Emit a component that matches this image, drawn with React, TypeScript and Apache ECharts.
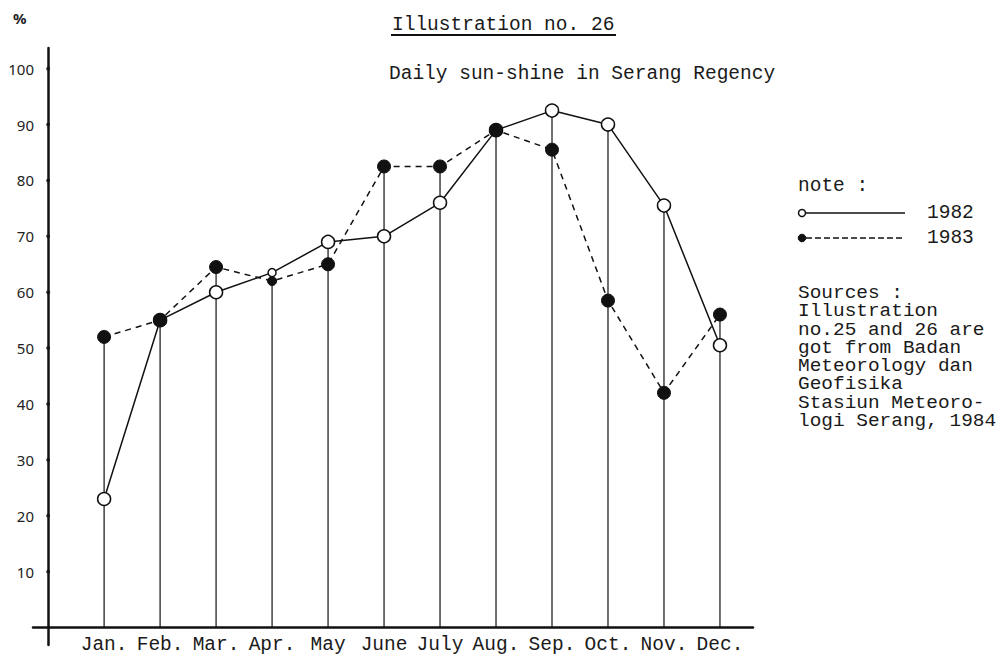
import React, { useEffect, useRef } from "react";
import * as echarts from "echarts";

const months = ["Jan.", "Feb.", "Mar.", "Apr.", "May", "June", "July", "Aug.", "Sep.", "Oct.", "Nov.", "Dec."];
const monthPos = [1, 2, 3, 4, 5, 6, 7, 8, 9, 10, 11, 12];
const sun1982 = [23, 55, 60, 63.5, 69, 70, 76, 89, 92.5, 90, 75.5, 50.5];
const sun1983 = [52, 55, 64.5, 62, 65, 82.5, 82.5, 89, 85.5, 58.5, 42, 56];
const yTicks = [10, 20, 30, 40, 50, 60, 70, 80, 90, 100];
const titleText = "Illustration no. 26";
const subtitleText = "Daily sun-shine in Serang Regency";
const sourceLines = [
  "Sources :",
  "Illustration",
  "no.25 and 26 are",
  "got from Badan",
  "Meteorology dan",
  "Geofisika",
  "Stasiun Meteoro-",
  "logi Serang, 1984",
];

const TYPE = "'Liberation Mono', 'Courier New', monospace";

export default function App() {
  const ref = useRef<HTMLDivElement>(null);
  useEffect(() => {
    if (!ref.current) return;
    const chart = echarts.init(ref.current, null, { renderer: "svg" });
    const d82 = monthPos.map((m, i) => [m, sun1982[i]]);
    const d83 = monthPos.map((m, i) => [m, sun1983[i]]);
    const drops = monthPos.map((m, i) => [m, Math.max(sun1982[i], sun1983[i])]);
    const tickDots = yTicks.map((v) => [0, v]);

    chart.setOption({
      animation: false,
      backgroundColor: "#ffffff",
      grid: {
        left: 33,
        right: 248,
        top: 48,
        bottom: 16,
        containLabel: false,
        outerBoundsMode: "none",
      },
      xAxis: {
        type: "value",
        min: -0.27,
        max: 12.59,
        axisLine: { onZero: true, lineStyle: { color: "#111", width: 2.5 } },
        axisTick: { show: false },
        splitLine: { show: false },
        axisLabel: {
          customValues: monthPos,
          formatter: (v: number) => months[Math.round(v) - 1] ?? "",
          fontFamily: TYPE,
          fontSize: 19.5,
          color: "#1a1a1a",
          margin: -10,
        },
      },
      yAxis: {
        type: "value",
        min: -3.13,
        max: 103.7,
        axisLine: { onZero: true, lineStyle: { color: "#111", width: 2.5 } },
        axisTick: { show: false },
        splitLine: { show: false },
        axisLabel: {
          customValues: yTicks,
          fontFamily: "'Noto Sans', sans-serif",
          fontSize: 15,
          color: "#222",
          margin: -1,
        },
      },
      series: [
        {
          type: "custom",
          name: "drop",
          data: drops,
          z: 1,
          renderItem: (params: any, api: any) => {
            const x = api.value(0);
            const top = api.value(1);
            const p0 = api.coord([x, 0]);
            const p1 = api.coord([x, top]);
            return {
              type: "line",
              shape: { x1: p0[0], y1: p0[1], x2: p1[0], y2: p1[1] },
              style: { stroke: "#111", lineWidth: 1.2 },
            };
          },
        },
        {
          type: "scatter",
          name: "ticks",
          data: tickDots,
          z: 5,
          symbol: "circle",
          symbolSize: 4,
          itemStyle: { color: "#111" },
          silent: true,
        },
        {
          type: "line",
          name: "1982",
          data: d82,
          z: 3,
          symbol: "circle",
          symbolSize: (_v: any, p: any) => (p.dataIndex === 3 ? 8 : 13),
          itemStyle: { color: "#ffffff", borderColor: "#111", borderWidth: 1.5 },
          lineStyle: { color: "#111", width: 1.5, type: "solid" },
        },
        {
          type: "line",
          name: "1983",
          data: d83,
          z: 4,
          symbol: "circle",
          symbolSize: (_v: any, p: any) => (p.dataIndex === 3 ? 9 : 13),
          itemStyle: { color: "#111", borderColor: "#111", borderWidth: 1 },
          lineStyle: { color: "#111", width: 1.5, type: [6, 5] },
        },
      ],
      graphic: [
        { type: "text", left: 13, top: 10, style: { text: "%", font: "bold 15px 'Noto Sans', sans-serif", fill: "#222" } },
        { type: "text", left: 392, top: 15, style: { text: titleText, font: `19.5px ${TYPE}`, fill: "#1a1a1a" } },
        { type: "line", shape: { x1: 391, y1: 35, x2: 616, y2: 35 }, style: { stroke: "#111", lineWidth: 1.8 } },
        { type: "text", left: 389, top: 64, style: { text: subtitleText, font: `19.5px ${TYPE}`, fill: "#1a1a1a" } },
        { type: "text", left: 798, top: 176, style: { text: "note :", font: `19.5px ${TYPE}`, fill: "#1a1a1a" } },
        { type: "line", shape: { x1: 806, y1: 213, x2: 905, y2: 213 }, style: { stroke: "#111", lineWidth: 1.5 } },
        { type: "circle", shape: { cx: 802, cy: 213, r: 3.5 }, style: { fill: "#fff", stroke: "#111", lineWidth: 1.5 } },
        { type: "text", left: 927, top: 203, style: { text: "1982", font: `19.5px ${TYPE}`, fill: "#1a1a1a" } },
        { type: "line", shape: { x1: 806, y1: 238, x2: 905, y2: 238 }, style: { stroke: "#111", lineWidth: 1.5, lineDash: [6, 3] } },
        { type: "circle", shape: { cx: 802, cy: 238, r: 3.8 }, style: { fill: "#111", stroke: "#111", lineWidth: 1 } },
        { type: "text", left: 927, top: 228, style: { text: "1983", font: `19.5px ${TYPE}`, fill: "#1a1a1a" } },
        {
          type: "text",
          x: 798,
          y: 284,
          scaleX: 1.08,
          style: { text: sourceLines.join("\n"), font: `18px ${TYPE}`, lineHeight: 18.3, fill: "#1a1a1a" },
        },
      ],
    });
    return () => chart.dispose();
  }, []);
  return <div ref={ref} style={{ position: "fixed", left: 0, top: 0, width: 1001, height: 661, background: "#fff" }} />;
}
